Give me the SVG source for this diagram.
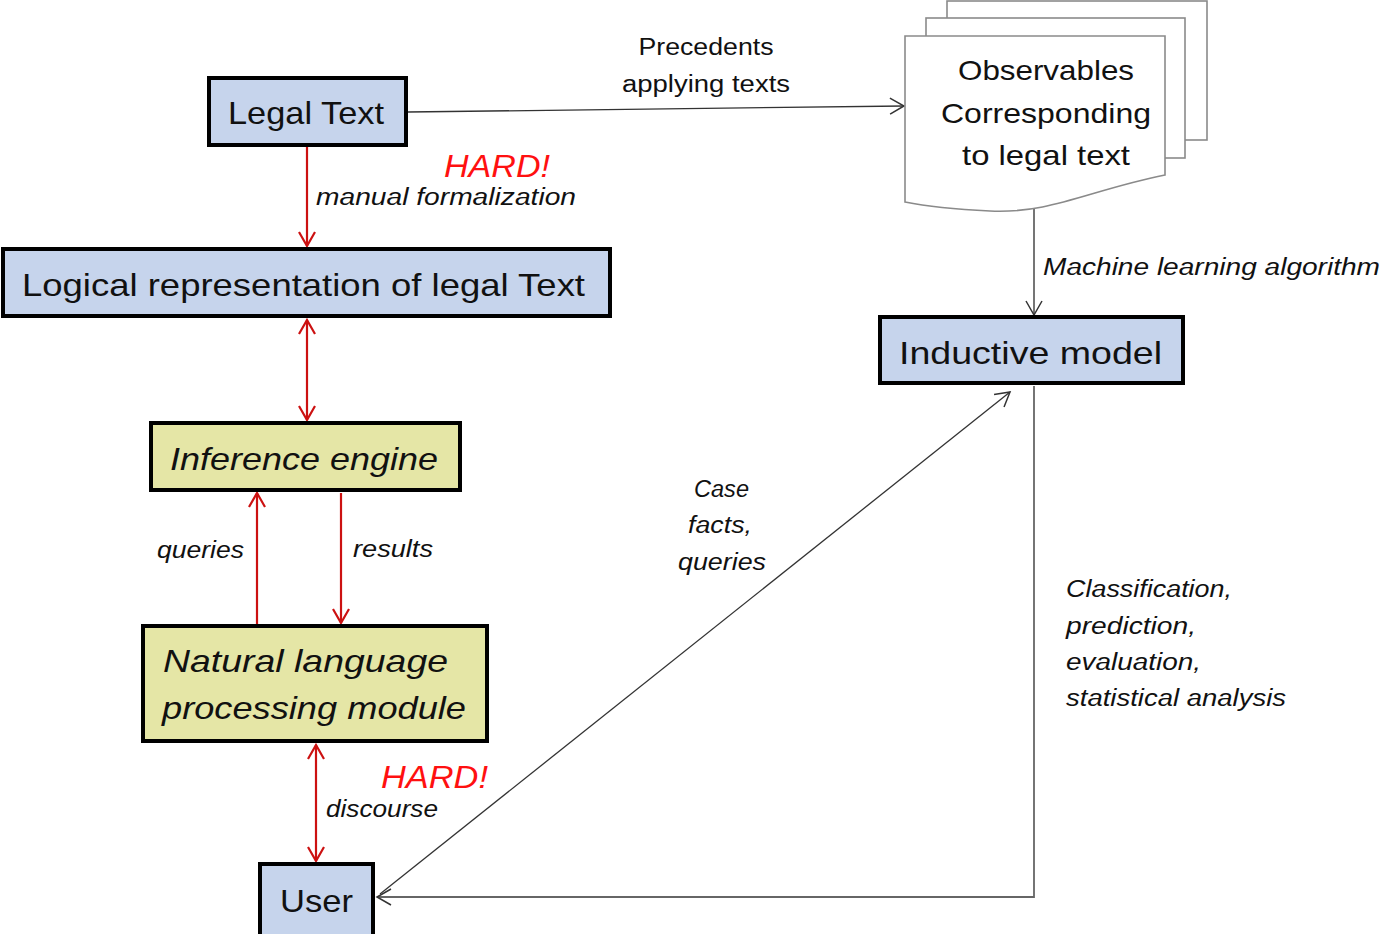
<svg xmlns="http://www.w3.org/2000/svg" width="1382" height="934" viewBox="0 0 1382 934">
<defs>
<style>
text{font-family:"Liberation Sans",Arial,sans-serif;fill:#111}
.node{fill:#c6d4ec;stroke:#000;stroke-width:4}
.ynode{fill:#e5e6a6;stroke:#000;stroke-width:4}
.big{font-size:32px}
.it{font-style:italic}
.lab{font-size:23px;font-style:italic}
.hard{font-size:32px;font-style:italic;fill:#ff1010}
.red{stroke:#cc1111;stroke-width:2.2;fill:none}
.blk{stroke:#333;stroke-width:1.3;fill:none}
.gry{stroke:#666;stroke-width:1.8;fill:none}
.sheet{fill:#fff;stroke:#8a8a8a;stroke-width:1.6}
</style>
<marker id="ar" viewBox="0 0 20 20" refX="18" refY="10" markerWidth="20" markerHeight="20" markerUnits="userSpaceOnUse" orient="auto-start-reverse">
<path d="M4,2 L18,10 L4,18" fill="none" stroke="#cc1111" stroke-width="2.2"/>
</marker>
<marker id="ab" viewBox="0 0 20 20" refX="18" refY="10" markerWidth="20" markerHeight="20" markerUnits="userSpaceOnUse" orient="auto-start-reverse">
<path d="M4,2 L18,10 L4,18" fill="none" stroke="#333" stroke-width="1.5"/>
</marker>
</defs>
<rect width="1382" height="934" fill="#fff"/>

<g id="connectors">
<line class="blk" x1="408" y1="112" x2="904" y2="106" marker-end="url(#ab)"/>
<line class="red" x1="307" y1="147" x2="307" y2="246" marker-end="url(#ar)"/>
<line class="red" x1="307" y1="320" x2="307" y2="420" marker-start="url(#ar)" marker-end="url(#ar)"/>
<line class="red" x1="257" y1="625" x2="257" y2="493" marker-end="url(#ar)"/>
<line class="red" x1="341" y1="493" x2="341" y2="623" marker-end="url(#ar)"/>
<line class="red" x1="316" y1="745" x2="316" y2="861" marker-start="url(#ar)" marker-end="url(#ar)"/>
<line class="gry" x1="1034" y1="204" x2="1034" y2="315" marker-end="url(#ab)"/>
<line class="blk" x1="380" y1="894" x2="1010" y2="392" marker-end="url(#ab)"/>
<polyline class="gry" points="1034,386 1034,897 377,897" marker-end="url(#ab)"/>
</g>

<g id="labels">
<text x="706" y="55" font-size="23" text-anchor="middle" textLength="135" lengthAdjust="spacingAndGlyphs">Precedents</text>
<text x="706" y="92" font-size="23" text-anchor="middle" textLength="168" lengthAdjust="spacingAndGlyphs">applying texts</text>
<text class="hard" x="444" y="177" textLength="106" lengthAdjust="spacingAndGlyphs">HARD!</text>
<text class="lab" x="316" y="205" textLength="260" lengthAdjust="spacingAndGlyphs">manual formalization</text>
<text class="lab" x="157" y="558" textLength="87" lengthAdjust="spacingAndGlyphs">queries</text>
<text class="lab" x="353" y="557" textLength="80" lengthAdjust="spacingAndGlyphs">results</text>
<text class="hard" x="381" y="788" textLength="107" lengthAdjust="spacingAndGlyphs">HARD!</text>
<text class="lab" x="326" y="817" textLength="112" lengthAdjust="spacingAndGlyphs">discourse</text>
<text class="lab" x="1043" y="275" textLength="337" lengthAdjust="spacingAndGlyphs">Machine learning algorithm</text>
<text class="lab" x="694" y="497" textLength="55" lengthAdjust="spacingAndGlyphs">Case</text>
<text class="lab" x="688" y="533" textLength="64" lengthAdjust="spacingAndGlyphs">facts,</text>
<text class="lab" x="678" y="570" textLength="88" lengthAdjust="spacingAndGlyphs">queries</text>
<text class="lab" x="1066" y="597" textLength="166" lengthAdjust="spacingAndGlyphs">Classification,</text>
<text class="lab" x="1066" y="634" textLength="130" lengthAdjust="spacingAndGlyphs">prediction,</text>
<text class="lab" x="1066" y="670" textLength="135" lengthAdjust="spacingAndGlyphs">evaluation,</text>
<text class="lab" x="1066" y="706" textLength="220" lengthAdjust="spacingAndGlyphs">statistical analysis</text>
</g>

<g id="legal-text">
<rect class="node" x="209" y="78" width="197" height="67"/>
<text class="big" x="228" y="124" textLength="156" lengthAdjust="spacingAndGlyphs">Legal Text</text>
</g>

<g id="logical-representation">
<rect class="node" x="3" y="249" width="607" height="67"/>
<text class="big" x="22" y="296" textLength="563" lengthAdjust="spacingAndGlyphs">Logical representation of legal Text</text>
</g>

<g id="inference-engine">
<rect class="ynode" x="151" y="423" width="309" height="67"/>
<text class="big it" x="170" y="470" textLength="268" lengthAdjust="spacingAndGlyphs">Inference engine</text>
</g>

<g id="nlp-module">
<rect class="ynode" x="143" y="626" width="344" height="115"/>
<text class="big it" x="163" y="672" textLength="285" lengthAdjust="spacingAndGlyphs">Natural language</text>
<text class="big it" x="162" y="719" textLength="304" lengthAdjust="spacingAndGlyphs">processing module</text>
</g>

<g id="user">
<rect class="node" x="260" y="864" width="113" height="74"/>
<text class="big" x="280" y="912" textLength="73" lengthAdjust="spacingAndGlyphs">User</text>
</g>

<g id="inductive-model">
<rect class="node" x="880" y="317" width="303" height="66"/>
<text class="big" x="899" y="364" textLength="263" lengthAdjust="spacingAndGlyphs">Inductive model</text>
</g>

<g id="observables">
<rect class="sheet" x="947" y="1" width="260" height="139"/>
<rect class="sheet" x="926" y="18" width="259" height="140"/>
<path class="sheet" d="M905,36 L1165,36 L1165,175 C1090,190 1050,214 990,211 C950,209 925,206 905,202 Z"/>
<text x="1046" y="80" font-size="28" text-anchor="middle" textLength="176" lengthAdjust="spacingAndGlyphs">Observables</text>
<text x="1046" y="123" font-size="28" text-anchor="middle" textLength="210" lengthAdjust="spacingAndGlyphs">Corresponding</text>
<text x="1046" y="165" font-size="28" text-anchor="middle" textLength="168" lengthAdjust="spacingAndGlyphs">to legal text</text>
</g>
</svg>
